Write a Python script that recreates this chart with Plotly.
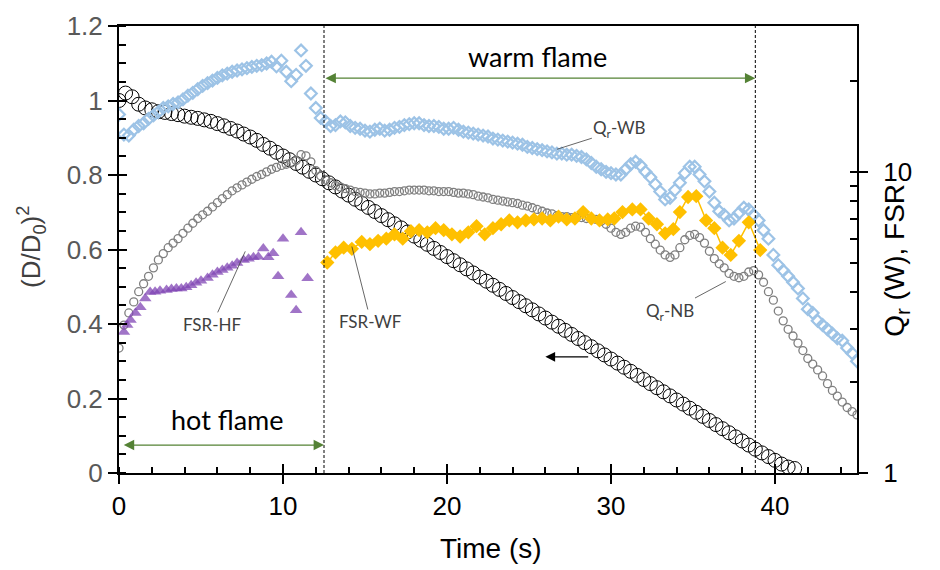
import numpy as np
import plotly.graph_objects as go

# ---------------- data ----------------
# (D/D0)^2, left axis, sampled every 0.4 s
d2 = [1.00, 1.02, 1.01, 0.99, 0.98, 0.975, 0.97, 0.968, 0.965, 0.962,
      0.958, 0.955, 0.952, 0.948, 0.944, 0.938, 0.932, 0.925, 0.918, 0.910,
      0.902, 0.893, 0.882, 0.872, 0.861, 0.851, 0.841, 0.831, 0.821, 0.810,
      0.800, 0.790, 0.779, 0.768, 0.757, 0.746, 0.735, 0.724, 0.713, 0.702,
      0.691, 0.680, 0.669, 0.658, 0.647, 0.636, 0.625, 0.614, 0.603, 0.592,
      0.581, 0.570, 0.559, 0.548, 0.537, 0.526, 0.515, 0.504, 0.493, 0.482,
      0.471, 0.460, 0.449, 0.438, 0.427, 0.416, 0.405, 0.394, 0.383, 0.372,
      0.361, 0.350, 0.339, 0.328, 0.317, 0.306, 0.295, 0.284, 0.273, 0.262,
      0.251, 0.240, 0.229, 0.218, 0.207, 0.196, 0.185, 0.174, 0.163, 0.152,
      0.141, 0.130, 0.119, 0.108, 0.097, 0.086, 0.075, 0.064, 0.054, 0.044,
      0.034, 0.024, 0.016, 0.012]
t_d2 = np.round(np.arange(len(d2)) * 0.4, 2)

# Qr-WB (W), right axis, every 0.3 s
qr_wb = [15.5, 13.3, 13.2, 13.8, 14.2, 14.5, 15.0, 15.4, 15.8, 16.3,
         16.5, 16.8, 17.0, 17.4, 17.9, 18.3, 18.8, 19.3, 19.7, 20.1,
         20.5, 20.9, 21.2, 21.5, 21.7, 21.9, 22.1, 22.3, 22.5, 22.6,
         22.9, 23.2, 22.4, 23.4, 21.5, 20.0, 21.0, 25.3, 22.5, 18.2,
         16.3, 15.1, 14.7, 14.2, 14.3, 14.7, 14.6, 14.2, 14.0, 13.9,
         13.7, 13.6, 13.8, 13.9, 13.7, 13.8, 14.0, 14.1, 14.3, 14.4,
         14.5, 14.5, 14.3, 14.2, 14.2, 14.1, 13.9, 13.9, 14.0, 13.8,
         13.6, 13.5, 13.4, 13.3, 13.2, 13.1, 12.9, 12.8, 12.7, 12.6,
         12.5, 12.4, 12.3, 12.1, 12.0, 11.9, 11.8, 11.7, 11.6, 11.5,
         11.5, 11.4, 11.4, 11.3, 11.2, 11.0, 10.7, 10.4, 10.2, 10.0,
         9.9, 9.8, 9.8, 10.2, 10.6, 10.8, 10.5, 10.0, 9.6, 9.1,
         8.6, 8.1, 8.2, 8.7, 9.2, 9.9, 10.4, 10.4, 9.8, 9.3,
         8.6, 7.9, 7.4, 7.2, 6.9, 7.0, 7.3, 7.6, 7.5, 7.2,
         6.9, 6.4, 6.0, 5.3, 4.9, 4.7, 4.5, 4.3, 4.1, 3.8,
         3.5, 3.4, 3.2, 3.1, 3.0, 2.9, 2.8, 2.75, 2.6, 2.5,
         2.35]
t_wb = np.round(np.arange(len(qr_wb)) * 0.3, 2)

# Qr-NB (W), right axis, every 0.3 s
qr_nb = [2.6, 3.1, 3.4, 3.7, 4.0, 4.25, 4.5, 4.8, 5.1, 5.35,
         5.6, 5.8, 6.0, 6.25, 6.5, 6.75, 7.0, 7.2, 7.4, 7.65,
         7.9, 8.15, 8.4, 8.65, 8.85, 9.05, 9.25, 9.45, 9.65, 9.8,
         10.0, 10.2, 10.35, 10.5, 10.6, 10.7, 10.9, 11.4, 11.3, 10.8,
         10.1, 9.7, 9.4, 9.2, 9.0, 8.9, 8.8, 8.7, 8.6, 8.55,
         8.5, 8.45, 8.45, 8.5, 8.5, 8.55, 8.6, 8.6, 8.65, 8.7,
         8.7, 8.7, 8.7, 8.65, 8.65, 8.6, 8.6, 8.6, 8.55, 8.5,
         8.5, 8.45, 8.4, 8.3, 8.25, 8.2, 8.1, 8.05, 8.0, 7.95,
         7.9, 7.85, 7.75, 7.7, 7.6, 7.5, 7.4, 7.3, 7.25, 7.15,
         7.1, 7.1, 7.05, 7.05, 7.05, 7.0, 7.0, 6.95, 6.85, 6.7,
         6.5, 6.3, 6.2, 6.3, 6.5, 6.6, 6.55, 6.3, 6.0, 5.75,
         5.5, 5.3, 5.2, 5.3, 5.6, 5.95, 6.15, 6.2, 6.05, 5.8,
         5.45, 5.15, 4.95, 4.8, 4.6, 4.5, 4.45, 4.5, 4.65, 4.7,
         4.55, 4.3, 4.0, 3.75, 3.45, 3.2, 3.0, 2.85, 2.7, 2.55,
         2.4, 2.3, 2.2, 2.1, 1.98, 1.88, 1.8, 1.72, 1.65, 1.6,
         1.56]
t_nb = np.round(np.arange(len(qr_nb)) * 0.3, 2)

# FSR during hot flame
t_hf = [0.3, 0.5, 0.7, 1.0, 1.3, 1.6, 1.9, 2.2, 2.5, 2.9, 3.2, 3.5, 3.8,
        4.1, 4.4, 4.7, 5.0, 5.4, 5.7, 6.0, 6.3, 6.6, 6.9, 7.2, 7.6, 7.9,
        8.2, 8.5, 8.8, 9.1, 9.4, 9.7, 10.0, 10.5, 10.8, 11.1, 11.5]
fsr_hf = [2.94, 3.1, 3.22, 3.4, 3.55, 3.8, 3.99, 4.0, 4.03, 4.05, 4.08, 4.1, 4.1,
          4.14, 4.2, 4.28, 4.35, 4.44, 4.55, 4.65, 4.72, 4.8, 4.88, 4.98, 5.1, 5.15,
          5.2, 5.22, 5.57, 5.2, 5.37, 4.5, 6.0, 3.9, 3.47, 6.3, 4.43]

# FSR during warm flame
t_wf = [12.7, 13.2, 13.7, 14.2, 14.8, 15.3, 15.8, 16.3, 16.8, 17.3, 17.8, 18.3,
        18.8, 19.3, 19.8, 20.3, 20.8, 21.3, 21.8, 22.3, 22.8, 23.3, 23.8, 24.3,
        24.8, 25.3, 25.8, 26.3, 26.8, 27.3, 27.8, 28.3, 28.8, 29.3, 29.8, 30.2,
        30.7, 31.3, 31.8, 32.3, 32.8, 33.3, 33.8, 34.2, 34.7, 35.2, 35.8, 36.3,
        36.8, 37.3, 37.8, 38.4, 39.1]
fsr_wf = [5.0, 5.4, 5.6, 5.55, 5.85, 5.75, 5.9, 6.0, 6.2, 6.0, 6.35, 6.4,
          6.3, 6.5, 6.4, 6.2, 6.1, 6.3, 6.6, 6.2, 6.5, 6.7, 6.9, 6.8,
          6.9, 6.95, 7.0, 6.9, 7.1, 6.95, 7.0, 7.35, 7.0, 6.9, 6.95, 7.0,
          7.35, 7.5, 7.5, 7.0, 6.7, 6.25, 6.45, 7.35, 8.25, 8.3, 6.9, 6.5,
          5.6, 5.3, 5.9, 6.8, 5.5]

# phase boundaries (s)
hot_start, hot_end, warm_end = 0.2, 12.5, 38.8

# ---------------- figure ----------------
FONT = "Liberation Sans"
LBL = "Lato"
GREEN = "#548235"

fig = go.Figure()

fig.add_trace(go.Scatter(x=t_d2, y=d2, mode="markers", yaxis="y",
                         marker=dict(symbol="circle-open", size=14, color="black",
                                     line=dict(width=1, color="black")),
                         showlegend=False))
fig.add_trace(go.Scatter(x=t_nb, y=qr_nb, mode="markers", yaxis="y2",
                         marker=dict(symbol="circle-open", size=8, color="#7F7F7F",
                                     line=dict(width=1.3, color="#7F7F7F")),
                         showlegend=False))
fig.add_trace(go.Scatter(x=t_wb, y=qr_wb, mode="markers", yaxis="y2",
                         marker=dict(symbol="diamond-open", size=9, color="#9DC3E6",
                                     line=dict(width=2.2, color="#9DC3E6")),
                         showlegend=False))
fig.add_trace(go.Scatter(x=t_hf, y=fsr_hf, mode="markers", yaxis="y2",
                         marker=dict(symbol="triangle-up", size=11,
                                     color="rgba(128,70,180,0.75)", line=dict(width=0)),
                         showlegend=False))
fig.add_trace(go.Scatter(x=t_wf, y=fsr_wf, mode="lines+markers", yaxis="y2",
                         line=dict(color="#FFC000", width=1.5),
                         marker=dict(symbol="diamond", size=11, color="#FFC000"),
                         showlegend=False))
# dummy traces so the tick-overlay axes exist
fig.add_trace(go.Scatter(x=[None], y=[None], xaxis="x3", yaxis="y3",
                         showlegend=False, hoverinfo="skip"))
fig.add_trace(go.Scatter(x=[None], y=[None], xaxis="x", yaxis="y4",
                         showlegend=False, hoverinfo="skip"))

yr2 = [0, np.log10(30.5)]
common = dict(showgrid=False, zeroline=False, automargin=False)
TICK = 26

fig.update_layout(
    width=932, height=562,
    margin=dict(l=111, r=83, t=18, b=97, autoexpand=False),
    paper_bgcolor="white", plot_bgcolor="white",
    font=dict(family=FONT, size=TICK, color="black"),
    xaxis=dict(range=[0, 45], tick0=0, dtick=10, ticks="outside", ticklen=9,
               tickwidth=1.5, tickcolor="black", showline=True, linecolor="black",
               linewidth=2, mirror=True,
               minor=dict(dtick=2, tick0=0, ticks="inside", ticklen=6, tickwidth=1.5,
                          tickcolor="black"),
               tickfont=dict(size=TICK, color="black"), **common),
    yaxis=dict(range=[0, 1.2], tick0=0, dtick=0.2, ticks="outside", ticklen=9,
               tickwidth=1.5, tickcolor="black", showline=True, linecolor="black",
               linewidth=2,
               minor=dict(dtick=0.05, tick0=0, ticks="inside", ticklen=7, tickwidth=1.5,
                          tickcolor="black"),
               tickfont=dict(size=TICK, color="#595959"), **common),
    yaxis2=dict(type="log", range=yr2, overlaying="y", side="right", anchor="x",
                tickmode="array", tickvals=[1, 10], ticktext=["1", "10"],
                ticks="outside", ticklen=9, tickwidth=1.5, tickcolor="black",
                showline=True, linecolor="black", linewidth=2, ticklabelstandoff=10,
                tickfont=dict(size=TICK, color="black"), **common),
    xaxis3=dict(range=[0, 45], overlaying="x", anchor="y3", tick0=0, dtick=10,
                ticks="inside", ticklen=9, tickwidth=1.5, tickcolor="black",
                showticklabels=False, showline=False, **common),
    yaxis3=dict(range=[0, 1.2], overlaying="y", anchor="x3", tick0=0, dtick=0.2,
                ticks="inside", ticklen=8, tickwidth=1.5, tickcolor="black",
                showticklabels=False, showline=False, **common),
    yaxis4=dict(type="log", range=yr2, overlaying="y", side="right", anchor="x",
                tickmode="array", tickvals=[2, 3, 4, 5, 6, 7, 8, 9, 10, 20],
                ticks="inside", ticklen=7, tickwidth=1.5, tickcolor="black",
                showticklabels=False, showline=False, **common),
)

# dashed phase boundaries
for xv in (hot_end, warm_end):
    fig.add_shape(type="line", xref="x", yref="paper", x0=xv, x1=xv, y0=0, y1=1,
                  line=dict(color="black", width=1, dash="3px,2px"))

# phase arrows
fig.add_annotation(x=warm_end, y=1.06, ax=hot_end, ay=1.06, xref="x", yref="y",
                   axref="x", ayref="y", showarrow=True, arrowhead=2, arrowside="end+start",
                   arrowsize=1.6, arrowwidth=1.3, arrowcolor=GREEN, text="")
fig.add_annotation(x=hot_end, y=0.075, ax=hot_start, ay=0.075, xref="x", yref="y",
                   axref="x", ayref="y", showarrow=True, arrowhead=2, arrowside="end+start",
                   arrowsize=1.6, arrowwidth=1.3, arrowcolor=GREEN, text="")
fig.add_annotation(x=26.0, y=0.312, ax=28.7, ay=0.312, xref="x", yref="y",
                   axref="x", ayref="y", showarrow=True, arrowhead=2,
                   arrowsize=1.5, arrowwidth=1.3, arrowcolor="black", text="")

fig.add_annotation(x=25.5, y=1.119, xref="x", yref="y", text="warm flame",
                   showarrow=False, xanchor="center", yanchor="middle",
                   font=dict(family=LBL, size=27, color="black"))
fig.add_annotation(x=6.6, y=0.143, xref="x", yref="y", text="hot flame",
                   showarrow=False, xanchor="center", yanchor="middle",
                   font=dict(family=LBL, size=27, color="black"))

# series labels with leader lines
lab_font = dict(family=LBL, size=17, color="#404040")
labels = [
    ("Q<sub>r</sub>-WB", 26.7, 0.869, 63, -20),
    ("Q<sub>r</sub>-NB", 37.0, 0.514, -56, 30),
    ("FSR-HF", 7.7, 0.595, -33, 73),
    ("FSR-WF", 14.2, 0.608, 19, 75),
]
for txt, xx, yy, axp, ayp in labels:
    fig.add_annotation(x=xx, y=yy, xref="x", yref="y", ax=axp, ay=ayp, text=txt,
                       showarrow=True, arrowhead=0, arrowwidth=0.8,
                       arrowcolor="#404040", font=lab_font)

# axis titles
fig.add_annotation(x=-0.119, y=0.506, xref="paper", yref="paper", textangle=-90,
                   xanchor="center", yanchor="middle",
                   text="(D/D<sub>0</sub>)<sup>2</sup>", showarrow=False,
                   font=dict(family=FONT, size=26, color="#404040"))
fig.add_annotation(x=1.054, y=0.477, xref="paper", yref="paper", textangle=-90,
                   xanchor="center", yanchor="middle",
                   text="Q<sub>r</sub> (W), FSR", showarrow=False,
                   font=dict(family=FONT, size=28, color="black"))
fig.add_annotation(x=0.504, y=-0.168, xref="paper", yref="paper",
                   xanchor="center", yanchor="middle",
                   text="Time (s)", showarrow=False,
                   font=dict(family=FONT, size=28, color="black"))

fig.write_html("out.html")
